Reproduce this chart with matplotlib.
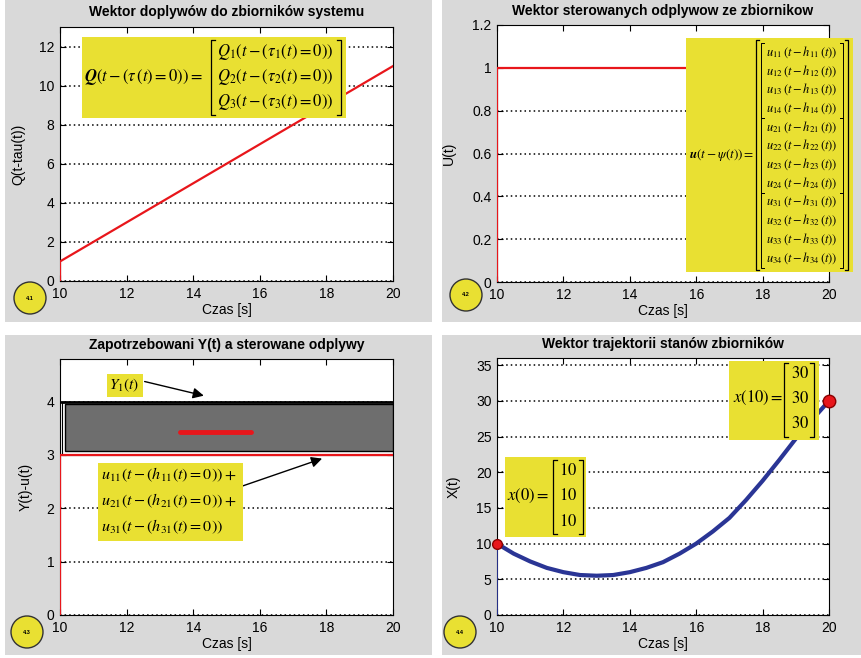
import numpy as np
import matplotlib.pyplot as plt
from matplotlib.patches import Rectangle, Ellipse
from matplotlib.lines import Line2D

plt.rcParams['font.family'] = ['Liberation Sans', 'DejaVu Sans']
plt.rcParams['mathtext.fontset'] = 'stix'

# --- data ---
t_q = [10, 10, 12, 14, 16, 18, 20]
q_in = [0, 1, 3, 5, 7, 9, 11]

t_u = [10, 10, 20]
u_out = [0, 1, 1]

t_yu = [10, 10, 20]
yu = [0, 3, 3]
t_demand = [10.05, 20]
demand = [4, 4]
band_t = [10.15, 20]
band_y = [3.08, 3.95]
red_bar_t = [13.6, 15.75]
red_bar_y = [3.43, 3.43]

t_x = [10, 10.5, 11, 11.5, 12, 12.5, 13, 13.5, 14, 14.5, 15, 15.5, 16,
       16.5, 17, 17.5, 18, 18.5, 19, 19.5, 20]
x_state = [10, 8.6, 7.5, 6.6, 6.0, 5.6, 5.5, 5.6, 6.0, 6.6, 7.4, 8.6, 10.0,
           11.7, 13.6, 16.1, 18.8, 21.7, 24.7, 27.4, 30]
x_start = (10, 10)
x_end = (20, 30)

u_idx = ['11', '12', '13', '14', '21', '22', '23', '24', '31', '32', '33', '34']

RED = '#e8161b'
YEL = '#e9e032'
GRAY = '#d9d9d9'
BLUE = '#2a3595'

W, H = 862, 658
fig = plt.figure(figsize=(W / 100, H / 100), dpi=100)


def fx(x):
    return x / W


def fy(y):
    return 1 - y / H


def add_ax(l, r, t, b):
    ax = fig.add_axes([fx(l), fy(b), (r - l) / W, (b - t) / H])
    ax.tick_params(direction='in', top=True, right=True, length=4,
                   labelsize=10, pad=4)
    ax.yaxis.grid(True, linestyle=(0, (1, 2)), color='k', lw=1.1)
    ax.set_xlim(10, 20)
    ax.set_xticks([10, 12, 14, 16, 18, 20])
    ax.set_xlabel('Czas [s]', fontsize=10, labelpad=2)
    return ax


def ybox(x0, x1, y0, y1):
    fig.add_artist(Rectangle((fx(x0), fy(y1)), (x1 - x0) / W, (y1 - y0) / H,
                             transform=fig.transFigure, fc=YEL, ec='none', zorder=5))


def bracket(x0, x1, y0, y1, serif=4, lw=0.9):
    for xs in [(x0 + serif, x0, x0, x0 + serif), (x1 - serif, x1, x1, x1 - serif)]:
        fig.add_artist(Line2D([fx(v) for v in xs], [fy(y0), fy(y0), fy(y1), fy(y1)],
                              transform=fig.transFigure, color='k', lw=lw, zorder=7))


def ftext(x, y, s, size=11, ha='left'):
    fig.text(fx(x), fy(y), s, fontsize=size, ha=ha, va='center', zorder=8)


def badge(cx, cy, s, d=32):
    fig.add_artist(Ellipse((fx(cx), fy(cy)), d / W, d / H, transform=fig.transFigure,
                           fc=YEL, ec='#333333', lw=1, zorder=3))
    fig.text(fx(cx), fy(cy), s, fontsize=4, fontweight='bold', ha='center',
             va='center', zorder=4)


# gray panel backgrounds
for (x0, x1, y0, y1) in [(5, 432, 0, 322), (442, 862, 0, 322),
                         (5, 432, 335, 655), (442, 862, 335, 655)]:
    fig.add_artist(Rectangle((fx(x0), fy(y1)), (x1 - x0) / W, (y1 - y0) / H,
                             transform=fig.transFigure, fc=GRAY, ec='none', zorder=-1))

# --- panel 1 ---
ax1 = add_ax(60, 393, 27, 281)
ax1.plot(t_q, q_in, color=RED, lw=1.6, zorder=3)
ax1.set_ylim(0, 13)
ax1.set_yticks([0, 2, 4, 6, 8, 10, 12])
ax1.set_ylabel('Q(t-tau(t))', fontsize=10)
ax1.yaxis.set_label_coords(-0.105, 0.5)
ax1.set_title('Wektor doplywów do zbiorników systemu', fontsize=10,
              fontweight='bold', pad=8)

ybox(82, 346, 37, 118)
ftext(84, 77, r'$\boldsymbol{Q}(t-(\tau\,(t)=0))=$', size=12)
bracket(211, 341, 40, 115)
for i, yy in enumerate([52, 77, 102]):
    ftext(217, yy, rf'$Q_{i + 1}(t-(\tau_{i + 1}(t)=0))$', size=12)
badge(30, 298, '4.1')

# --- panel 2 ---
ax2 = add_ax(497, 829, 25, 282)
ax2.plot(t_u, u_out, color=RED, lw=1.6, zorder=3)
ax2.set_ylim(0, 1.2)
ax2.set_yticks([0, 0.2, 0.4, 0.6, 0.8, 1, 1.2])
ax2.set_yticklabels(['0', '0.2', '0.4', '0.6', '0.8', '1', '1.2'])
ax2.set_ylabel('U(t)', fontsize=10)
ax2.yaxis.set_label_coords(-0.123, 0.5)
ax2.set_title('Wektor sterowanych odplywow ze zbiornikow', fontsize=10,
              fontweight='bold', pad=7)

ybox(686, 853, 38, 272)
ftext(689, 155, r'$\boldsymbol{u}(t-\psi(t))=$', size=9.5)
bracket(756, 848, 40, 270, serif=3)
for g in range(3):
    bracket(761, 843, 43 + g * 75, 118 + g * 75, serif=3, lw=0.7)
for i, k in enumerate(u_idx):
    ftext(766, 52 + i * 18.7, rf'$u_{{{k}}}\,(t-h_{{{k}}}\,(t))$', size=9)
badge(466, 295, '4.2')

# --- panel 3 ---
ax3 = add_ax(60, 393, 359, 615)
ax3.add_patch(Rectangle((10.05, 3.0), 9.95, 1.0, fc='white', ec='k', lw=0.8, zorder=2))
ax3.add_patch(Rectangle((band_t[0], band_y[0]), band_t[1] - band_t[0],
                        band_y[1] - band_y[0], fc='#6e6e6e', ec='k', lw=1, zorder=3))
ax3.plot(t_demand, demand, color='k', lw=2, zorder=4)
ax3.plot(t_yu, yu, color=RED, lw=1.6, zorder=4)
ax3.plot(red_bar_t, red_bar_y, color=RED, lw=3.5, solid_capstyle='round', zorder=5)
ax3.set_ylim(0, 4.8)
ax3.set_yticks([0, 1, 2, 3, 4])
ax3.set_ylabel('Y(t)-u(t)', fontsize=10)
ax3.yaxis.set_label_coords(-0.081, 0.5)
ax3.set_title('Zapotrzebowani Y(t) a sterowane odplywy', fontsize=10,
              fontweight='bold', pad=7)
ax3.annotate('', xy=(14.4, 4.1), xytext=(12.46, 4.39),
             arrowprops=dict(arrowstyle='-|>', color='k', lw=1, mutation_scale=16))
ax3.annotate('', xy=(17.95, 2.95), xytext=(15.3, 2.38),
             arrowprops=dict(arrowstyle='-|>', color='k', lw=1, mutation_scale=16))

ybox(107, 143, 374, 397)
ftext(109, 385, r'$Y_1(t)$')
ybox(98, 243, 463, 541)
rows3 = [r'$u_{11}(t-(h_{11}(t)=0))+$', r'$u_{21}(t-(h_{21}(t)=0))+$',
         r'$u_{31}(t-(h_{31}(t)=0))$']
for i, s in enumerate(rows3):
    ftext(101, 475 + i * 26, s, size=11.6)
badge(27, 632, '4.3')

# --- panel 4 ---
ax4 = add_ax(497, 829, 358, 615)
ax4.plot([t_x[0], t_x[0]], [0, x_state[0]], color=BLUE, lw=1.3, zorder=3)
ax4.plot(t_x, x_state, color=BLUE, lw=3, zorder=3)
ax4.plot(*x_start, 'o', ms=7, mfc=RED, mec='#8b0000', zorder=6, clip_on=False)
ax4.plot(*x_end, 'o', ms=9, mfc=RED, mec='#8b0000', zorder=6, clip_on=False)
ax4.set_ylim(0, 36)
ax4.set_yticks([0, 5, 10, 15, 20, 25, 30, 35])
ax4.set_ylabel('X(t)', fontsize=10)
ax4.yaxis.set_label_coords(-0.108, 0.5)
ax4.set_title('Wektor trajektorii stanów zbiorników', fontsize=10,
              fontweight='bold', pad=7)

ybox(505, 586, 457, 537)
ftext(507, 496, r'$x(0)=$', size=12)
bracket(553, 583, 460, 534)
for i in range(3):
    ftext(568, 470 + i * 25.5, r'$10$', size=12, ha='center')
ybox(729, 819, 361, 440)
ftext(733, 398, r'$x(10)=$', size=12)
bracket(784, 814, 363, 437)
for i in range(3):
    ftext(800, 373 + i * 25, r'$30$', size=12, ha='center')
badge(460, 632, '4.4')

fig.savefig('out.png', dpi=100)
